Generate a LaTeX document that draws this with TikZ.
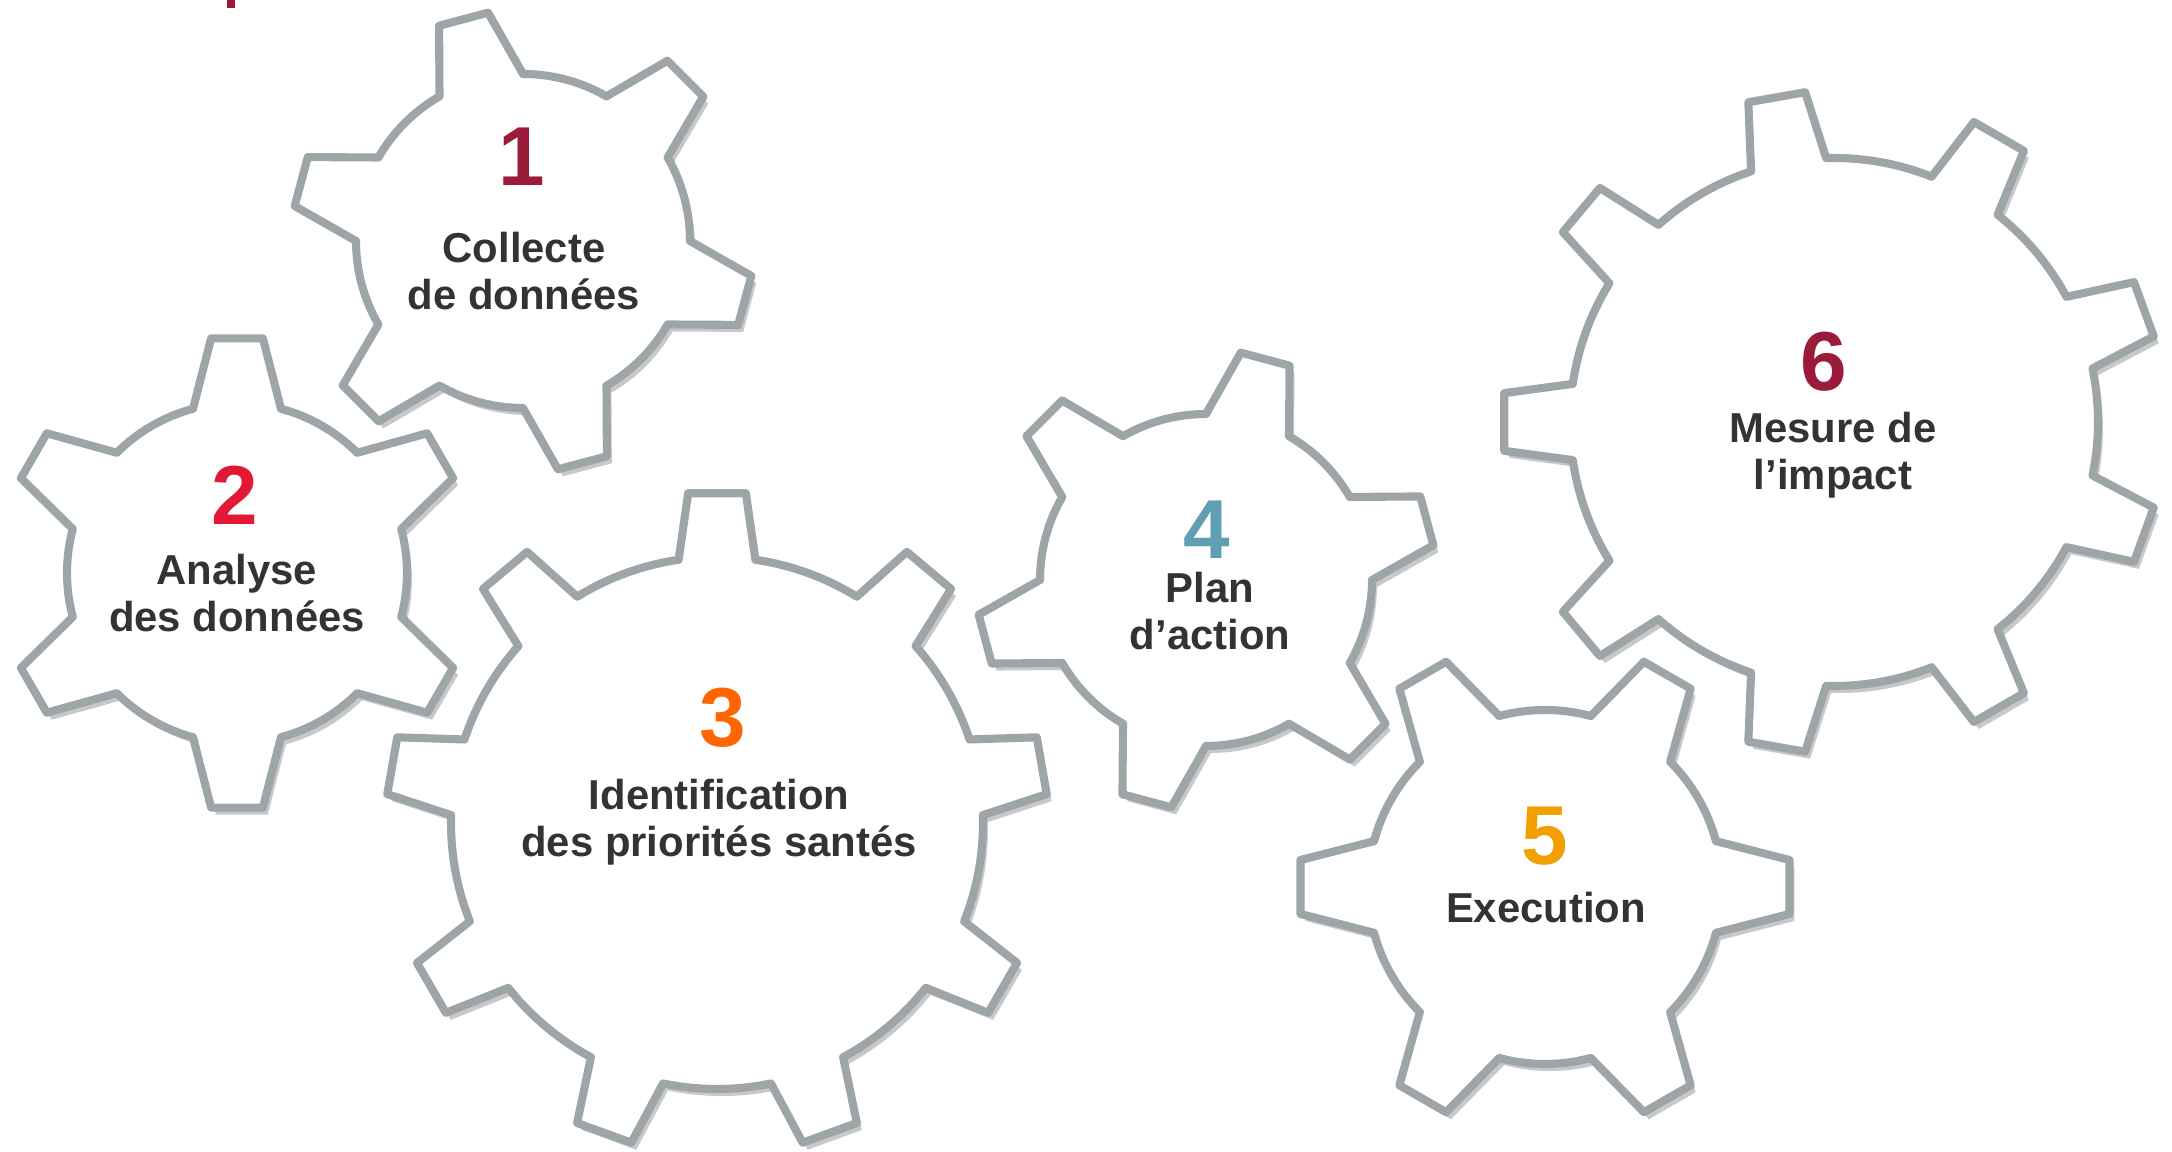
\documentclass[tikz,border=0pt]{standalone}
\usepackage{fontspec}
\setmainfont{Liberation Sans}
\usetikzlibrary{shadows}

\definecolor{cogline}{HTML}{9EA5A8}
\definecolor{labeltext}{HTML}{333333}
\definecolor{stepmaroon}{HTML}{9B1B3A}
\definecolor{stepred}{HTML}{E31837}
\definecolor{steporange}{HTML}{FF6600}
\definecolor{stepblue}{HTML}{5F9EB3}
\definecolor{stepamber}{HTML}{F2A000}

% cog: centre, teeth, phase, tip radius, root radius, tip half angle, root half angle
\newcommand{\cogwheel}[7]{%
  \begin{scope}[shift={#1}]
    \draw[cog] ({#3-#7}:#5)
      \foreach \k [evaluate=\k as \ang using #3+(\k-1)*360/#2] in {1,...,#2}{
        -- ({\ang-#6}:#4) -- ({\ang+#6}:#4) -- ({\ang+#7}:#5)
        arc[start angle={\ang+#7}, end angle={\ang+360/#2-#7}, radius=#5]
      } -- cycle;
  \end{scope}}

\begin{document}
\begin{tikzpicture}[x=0.01cm, y=0.01cm,
  cog/.style={draw=cogline, line width=2.3pt, fill=white, line join=round,
    drop shadow={shadow xshift=1.4pt, shadow yshift=-2pt, opacity=.3, fill=black!70}},
  num/.style={font=\fontsize{23.8}{26}\selectfont\bfseries, inner sep=0},
  lbl/.style={font=\fontsize{11.9}{13.4}\selectfont\bfseries, text=labeltext,
    align=center, inner sep=0, anchor=base}]
\useasboundingbox[fill=white] (0,0) rectangle (2172,1152);

% the gears
\cogwheel{(523,911)}{6}{-15}{231}{167}{6.3}{15}
\cogwheel{(237,579)}{6}{30}{236}{170}{6.3}{15}
\cogwheel{(717,329)}{9}{10}{331}{266}{5}{8.3}
\cogwheel{(1206,572)}{6}{15}{230}{166}{6.3}{15}
\cogwheel{(1545,265)}{6}{0}{246}{177}{6.3}{15}
\cogwheel{(1834,730)}{9}{20}{331}{264}{5}{8.3}

% cut off title letter
\fill[stepmaroon] (227,1152) rectangle (235,1144);

% numbers and labels (base = last line)
\node[num, text=stepmaroon] (num1) at (522,995) {1};
\node[lbl] (lab1) at (524,842) {Collecte\\de données};
\node[num, text=stepred] (num2) at (235,657) {2};
\node[lbl] (lab2) at (237,520) {Analyse\\des données};
\node[num, text=steporange] (num3) at (723,434) {3};
\node[lbl] (lab3) at (719,295) {Identification\\des priorités santés};
\node[num, text=stepblue] (num4) at (1207,622) {4};
\node[lbl] (lab4) at (1210,502) {Plan\\d’action};
\node[num, text=stepamber] (num5) at (1545,316) {5};
\node[lbl] (lab5) at (1546,229) {Execution};
\node[num, text=stepmaroon] (num6) at (1824,790) {6};
\node[lbl] (lab6) at (1833,662) {Mesure de\\l’impact};
\end{tikzpicture}
\end{document}
